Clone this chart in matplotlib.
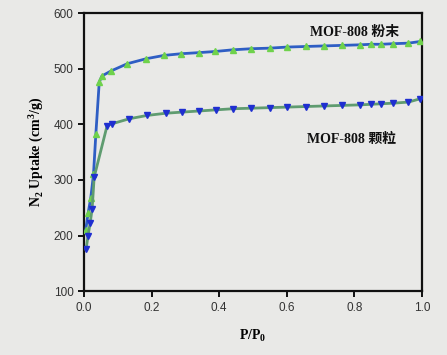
import matplotlib
matplotlib.use("Agg")
import matplotlib.pyplot as plt

powder_p = [0.005, 0.012, 0.02, 0.028, 0.035, 0.045, 0.053, 0.08, 0.128, 0.184, 0.237,
            0.288, 0.341, 0.388, 0.44, 0.495, 0.549, 0.602, 0.656, 0.709, 0.763,
            0.816, 0.85, 0.88, 0.914, 0.96, 0.995]
powder_v = [210, 240, 268, 310, 383, 476, 487, 496, 509, 518, 524,
            527, 529, 531, 534, 536, 537, 539, 540, 541, 542,
            543, 544, 544, 545, 546, 549]

granule_p = [0.006, 0.012, 0.018, 0.024, 0.03, 0.068, 0.083, 0.134, 0.187, 0.243,
             0.291, 0.341, 0.39, 0.44, 0.495, 0.549, 0.602, 0.656, 0.709, 0.763,
             0.816, 0.85, 0.88, 0.914, 0.96, 0.995]
granule_v = [175, 200, 222, 248, 305, 397, 401, 410, 416, 420,
             422, 424, 426, 428, 429, 430, 431, 432, 433, 434,
             435, 436, 437, 438, 440, 446]

xticks = [0.0, 0.2, 0.4, 0.6, 0.8, 1.0]
yticks = [100, 200, 300, 400, 500, 600]

bg = "#e9e9e7"
fig = plt.figure(figsize=(4.47, 3.55), dpi=100, facecolor=bg)
ax = fig.add_axes([0.188, 0.180, 0.756, 0.783], facecolor=bg)

ax.plot(powder_p, powder_v, color="#2f5ec4", lw=2.0, marker="^", ms=5,
        mfc="#6fd24c", mec="#6fd24c", zorder=3)
ax.plot(granule_p, granule_v, color="#5f9c70", lw=2.0, marker="v", ms=5,
        mfc="#1f2fd0", mec="#1f2fd0", zorder=3)

ax.set_xlim(0, 1.0)
ax.set_ylim(100, 600)
ax.set_xticks(xticks)
ax.set_xticklabels([f"{t:.1f}" for t in xticks])
ax.set_yticks(yticks)
for s in ax.spines.values():
    s.set_linewidth(1.6)
    s.set_color("#111111")
ax.tick_params(direction="out", length=4, width=1.4, labelsize=8.5,
               colors="#111111", labelcolor="#333333")
for lbl in ax.get_xticklabels() + ax.get_yticklabels():
    lbl.set_family("Liberation Sans")

serif = ["Liberation Serif", "Noto Sans CJK SC"]
ax.set_xlabel(r"P/P$_\mathregular{0}$", family="Liberation Serif", fontweight="bold",
              fontsize=10, labelpad=10)
ax.set_ylabel(r"N$_\mathregular{2}$ Uptake (cm$^\mathregular{3}$/g)", family="Liberation Serif",
              fontweight="bold", fontsize=10, labelpad=6)

ax.text(0.67, 0.93, "MOF-808 粉末", transform=ax.transAxes, family=serif,
        fontweight="bold", fontsize=10, color="#111111", va="center")
ax.text(0.66, 0.545, "MOF-808 颗粒", transform=ax.transAxes, family=serif,
        fontweight="bold", fontsize=10, color="#111111", va="center")

fig.savefig("out.png", dpi=100, facecolor=bg)
